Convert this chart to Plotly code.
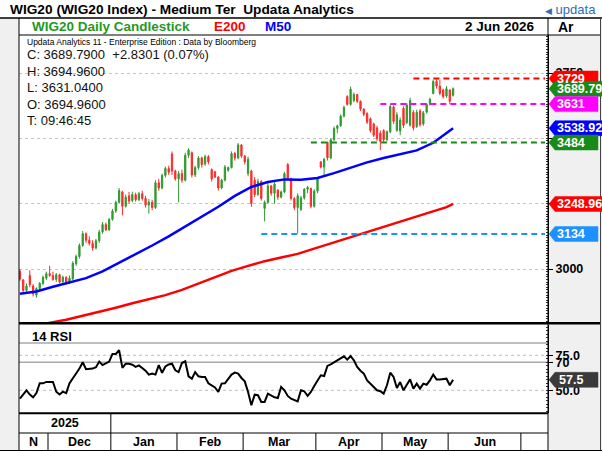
import plotly.graph_objects as go

# ---------------- data ----------------
days = list(range(132))

opens = [2992, 2958, 2918, 2975, 2935, 2900, 2925, 2945, 2965, 2982,
         2975, 2960, 2978, 2952, 2968, 2948, 2962, 3020, 3048, 3090,
         3135, 3110, 3098, 3080, 3108, 3142, 3170, 3150, 3190, 3222,
         3255, 3295, 3240, 3280, 3262, 3285, 3265, 3288, 3270, 3245,
         3255, 3235, 3330, 3310, 3358, 3385, 3440, 3375, 3345, 3365,
         3340, 3435, 3445, 3360, 3388, 3425, 3402, 3430, 3380, 3372,
         3352, 3310, 3340, 3378, 3388, 3442, 3425, 3475, 3432, 3365,
         3375, 3340, 3285, 3335, 3232, 3255, 3318, 3290, 3302, 3275,
         3295, 3400, 3345, 3270, 3235, 3228, 3272, 3305, 3308, 3240,
         3298, 3410, 3390, 3485, 3425, 3495, 3538, 3548, 3585, 3660,
         3630, 3645, 3668, 3642, 3612, 3595, 3575, 3555, 3540, 3520,
         3530, 3495, 3525, 3620, 3530, 3528, 3615, 3560, 3550, 3600,
         3545, 3605, 3555, 3600, 3630, 3672, 3718, 3700, 3685, 3662,
         3685, 3665]
highs = [2998, 2962, 2945, 2995, 2942, 2930, 2950, 2975, 2990, 3012,
         2990, 2985, 2982, 2975, 2972, 2975, 3030, 3055, 3098, 3145,
         3140, 3125, 3110, 3115, 3150, 3180, 3178, 3195, 3230, 3262,
         3310, 3300, 3285, 3295, 3296, 3292, 3295, 3300, 3280, 3268,
         3265, 3340, 3345, 3365, 3392, 3395, 3450, 3380, 3375, 3380,
         3445, 3462, 3450, 3395, 3432, 3430, 3438, 3436, 3385, 3375,
         3355, 3345, 3398, 3392, 3450, 3448, 3482, 3478, 3436, 3430,
         3380, 3352, 3345, 3340, 3262, 3330, 3322, 3335, 3305, 3300,
         3372, 3405, 3350, 3275, 3290, 3280, 3310, 3318, 3312, 3305,
         3352, 3412, 3425, 3487, 3500, 3545, 3552, 3592, 3625, 3665,
         3698, 3675, 3670, 3645, 3615, 3600, 3580, 3560, 3548, 3530,
         3535, 3530, 3630, 3625, 3600, 3580, 3622, 3635, 3655, 3608,
         3610, 3612, 3605, 3635, 3655, 3725, 3725, 3724, 3690, 3700,
         3688, 3694.96]
lows = [2955, 2910, 2905, 2930, 2895, 2890, 2918, 2938, 2958, 2970,
        2955, 2950, 2945, 2945, 2940, 2942, 2958, 3012, 3040, 3085,
        3100, 3090, 3070, 3075, 3100, 3135, 3145, 3145, 3185, 3215,
        3250, 3205, 3235, 3250, 3255, 3258, 3260, 3262, 3235, 3212,
        3225, 3230, 3300, 3305, 3350, 3360, 3360, 3338, 3255, 3330,
        3335, 3425, 3350, 3352, 3380, 3388, 3395, 3400, 3335, 3348,
        3300, 3305, 3335, 3372, 3385, 3415, 3420, 3425, 3400, 3355,
        3238, 3275, 3280, 3262, 3182, 3250, 3280, 3250, 3265, 3270,
        3290, 3340, 3262, 3225, 3136, 3222, 3265, 3290, 3232, 3235,
        3290, 3385, 3353, 3415, 3420, 3490, 3520, 3545, 3580, 3625,
        3625, 3638, 3635, 3605, 3585, 3555, 3522, 3505, 3490, 3455,
        3485, 3488, 3520, 3555, 3525, 3512, 3540, 3555, 3545, 3530,
        3540, 3545, 3548, 3595, 3625, 3668, 3690, 3665, 3652, 3655,
        3631.04, 3660]
closes = [2962, 2918, 2935, 2940, 2905, 2925, 2945, 2968, 2982, 2975,
          2960, 2978, 2950, 2968, 2948, 2965, 3022, 3048, 3090, 3135,
          3110, 3098, 3080, 3108, 3142, 3170, 3150, 3190, 3222, 3255,
          3300, 3240, 3275, 3260, 3285, 3265, 3288, 3270, 3245, 3255,
          3235, 3330, 3310, 3358, 3385, 3370, 3375, 3345, 3365, 3340,
          3435, 3455, 3360, 3388, 3425, 3400, 3430, 3410, 3345, 3352,
          3310, 3340, 3390, 3388, 3442, 3425, 3475, 3432, 3410, 3420,
          3250, 3285, 3335, 3270, 3255, 3318, 3290, 3325, 3275, 3295,
          3365, 3345, 3270, 3235, 3280, 3272, 3305, 3312, 3240, 3298,
          3345, 3390, 3420, 3425, 3495, 3538, 3548, 3585, 3618, 3630,
          3688, 3668, 3642, 3612, 3592, 3562, 3530, 3512, 3498, 3488,
          3495, 3525, 3622, 3565, 3590, 3570, 3550, 3628, 3645, 3540,
          3600, 3552, 3598, 3630, 3650, 3718, 3700, 3672, 3660, 3690,
          3642, 3689.79]

rsi = [44, 47, 50, 47, 45, 48, 55, 55, 56, 56,
       56, 49, 47, 49, 48, 55, 59, 62, 65.5, 70,
       65, 65, 65.5, 66.5, 70.5, 68, 69, 70.5, 76, 76,
       78.6, 66, 69, 69, 68.3, 66.7, 67.8, 66, 64, 61.2,
       61.9, 61.2, 68, 62.5, 67, 68.5, 69, 64.3, 63, 69.5,
       70.7, 60, 58.3, 63, 60, 59.5, 59.5, 55, 53.6, 52,
       48.8, 54.8, 55, 57.9, 61.2, 62.6, 61.9, 58.8, 56.4, 48.8,
       39.3, 46.9, 46.5, 41.7, 41.7, 47.6, 46.4, 45, 44.5, 52.4,
       50, 46, 44, 42.8, 42.1, 50, 49.3, 46, 48.8, 53,
       57.1, 60.7, 60.2, 67.4, 68.5, 69.8, 71.4, 73, 74.3, 71.9,
       74.5, 71.4, 66.7, 64, 61.9, 57.1, 54.5, 52.4, 50, 49.3,
       47.6, 53.6, 62.6, 59.5, 51.7, 55.9, 50, 54, 57.8, 51.2,
       54.8, 51.2, 54.8, 54, 57.1, 61.2, 57.8, 57.8, 58, 58.3,
       53.6, 57.5]

m50_days = [0, 5, 10, 15, 20, 25, 30, 35, 40, 45, 50, 55, 60, 65, 70, 75,
            80, 85, 90, 95, 100, 105, 110, 115, 120, 125, 131]
m50_vals = [2905, 2914, 2932, 2948, 2965, 2991, 3023, 3057, 3090, 3125, 3163,
            3199, 3238, 3280, 3314, 3333, 3343, 3342, 3348, 3367, 3389, 3408,
            3425, 3440, 3454, 3483, 3538.92]

e200_days = [4, 9, 14, 19, 24, 29, 34, 39, 44, 49, 54, 59, 64, 69, 74, 79,
             84, 89, 94, 99, 104, 109, 114, 119, 124, 129, 131]
e200_vals = [2782, 2793, 2806, 2821, 2836, 2852, 2869, 2885, 2900, 2920, 2944,
             2968, 2993, 3012, 3030, 3044, 3058, 3078, 3098, 3118, 3136, 3156,
             3177, 3198, 3216, 3237, 3248.96]

level_vals = [3729, 3631, 3484, 3134]
level_from = [119, 109, 88, 73]

tag_vals = [3729, 3689.79, 3631, 3538.92, 3484, 3248.96, 3134]
tag_text = ["3729", "3689.79", "3631", "3538.92", "3484", "3248.96", "3134"]
rsi_last = 57.5

price_ticks = [3000, 3250, 3500, 3750]
rsi_ticks = [50, 70, 75]
rsi_tick_text = ["50.0", "70", "75.0"]
rsi_dotted = [75, 50]
rsi_solid = [70]

month_labels = ["N", "Dec", "Jan", "Feb", "Mar", "Apr", "May", "Jun"]
month_starts = [0, 9, 28, 48, 68, 90, 110, 130, 152]
year_label = "2025"
year_end = 28

title_text = "WIG20 (WIG20 Index) - Medium Ter\u00a0 Updata Analytics"
ohlc_lines = ["C: 3689.7900\u00a0\u00a0+2.8301 (0.07%)", "H: 3694.9600",
              "L: 3631.0400", "O: 3694.9600", "T: 09:46:45"]

# ---------------- styles ----------------
W, H = 602, 451
def X(px):
    return px / W
def Y(py):
    return 1 - py / H

FONT = "Liberation Sans, Arial, sans-serif"
GREEN = "#2f9a2f"
RED = "#ff2a2a"
TAG_GREEN = "#178a17"
level_colors = ["#ff0000", "#ff00ff", "#1a8a1a", "#1e90ff"]
tag_colors = ["#ff0000", TAG_GREEN, "#ff00ff", "#0000ff", TAG_GREEN, "#ff0000", "#1e90ff"]

XMIN, XMAX = -0.27, 159.7
L_PX, R_PX = 19, 548
PRICE_TOP, PRICE_BOT = 35, 322
RSI_TOP, RSI_BOT = 324.7, 412.7
PX_PER_PT = (PRICE_BOT - PRICE_TOP) / (3895.5 - 2797.2)
PX_PER_RSI = 1.4

fig = go.Figure()

fig.add_trace(go.Candlestick(
    x=days, open=opens, high=highs, low=lows, close=closes,
    increasing=dict(line=dict(color=GREEN, width=1), fillcolor=GREEN),
    decreasing=dict(line=dict(color=RED, width=1), fillcolor=RED),
    whiskerwidth=0, showlegend=False, xaxis="x", yaxis="y", hoverinfo="skip"))

fig.add_trace(go.Scatter(x=e200_days, y=e200_vals, mode="lines",
                         line=dict(color="#ff0000", width=2.5),
                         showlegend=False, xaxis="x", yaxis="y", hoverinfo="skip"))
fig.add_trace(go.Scatter(x=m50_days, y=m50_vals, mode="lines",
                         line=dict(color="#0000ff", width=2.5),
                         showlegend=False, xaxis="x", yaxis="y", hoverinfo="skip"))

fig.add_trace(go.Scatter(x=days, y=rsi, mode="lines",
                         line=dict(color="black", width=2),
                         showlegend=False, xaxis="x2", yaxis="y2", hoverinfo="skip"))

shapes = []
annotations = []

def pline(x0, y0, x1, y1, color="black", width=1, layer="above"):
    shapes.append(dict(type="line", xref="paper", yref="paper",
                       x0=X(x0), y0=Y(y0), x1=X(x1), y1=Y(y1),
                       line=dict(color=color, width=width), layer=layer))

def prect(x0, y0, x1, y1, fill):
    shapes.append(dict(type="rect", xref="paper", yref="paper",
                       x0=X(x0), y0=Y(y0), x1=X(x1), y1=Y(y1),
                       fillcolor=fill, line=dict(width=0), layer="below"))

# white cells
prect(0, 0, W, 18, "white")
prect(L_PX, 18, 600, PRICE_TOP, "white")
prect(L_PX, RSI_BOT, R_PX, H, "white")

# level lines
for v, s, c in zip(level_vals, level_from, level_colors):
    shapes.append(dict(type="line", xref="x", yref="y", x0=s, x1=XMAX - 0.9,
                       y0=v, y1=v, line=dict(color=c, width=2, dash="6px,4px"),
                       layer="above"))

# RSI reference lines
for v in rsi_dotted:
    shapes.append(dict(type="line", xref="x2 domain", yref="y2", x0=0, x1=1,
                       y0=v, y1=v, line=dict(color="#bdbdbd", width=1, dash="dot"),
                       layer="below"))
for v in rsi_solid:
    shapes.append(dict(type="line", xref="x2 domain", yref="y2", x0=0, x1=1,
                       y0=v, y1=v, line=dict(color="#a8a8a8", width=1.5),
                       layer="below"))
pline(L_PX, 343, R_PX, 343, "#a8a8a8", 1.5)

# frame lines
pline(0, 18, W, 18, "black", 1.5)
pline(L_PX, 18, L_PX, H, "black", 1)
pline(R_PX, 18, R_PX, H, "black", 1)
pline(600.5, 18, 600.5, H, "#444", 1)
pline(L_PX, PRICE_TOP, 600, PRICE_TOP, "black", 1)
pline(L_PX, 323.3, 600, 323.3, "black", 2.5)
pline(L_PX, 413.2, R_PX, 413.2, "black", 2)
pline(L_PX, 433, R_PX, 433, "black", 1)
pline(0, 450.5, W, 450.5, "black", 1)

# month separators and labels
for s in month_starts[1:]:
    shapes.append(dict(type="line", xref="x", yref="paper", x0=s - 0.5, x1=s - 0.5,
                       y0=Y(433), y1=Y(H), line=dict(color="black", width=1),
                       layer="above"))
shapes.append(dict(type="line", xref="x", yref="paper", x0=year_end - 0.5,
                   x1=year_end - 0.5, y0=Y(413), y1=Y(433),
                   line=dict(color="black", width=1), layer="above"))
for i, lab in enumerate(month_labels):
    a = max(month_starts[i] - 0.5, XMIN)
    b = month_starts[i + 1] - 0.5
    annotations.append(dict(x=(a + b) / 2, y=Y(442), xref="x", yref="paper",
                            text=lab, showarrow=False, xanchor="center", yanchor="middle",
                            font=dict(family=FONT, size=12.5, color="black", weight="bold")))
annotations.append(dict(x=(XMIN + year_end - 0.5) / 2, y=Y(423), xref="x", yref="paper",
                        text=year_label, showarrow=False, xanchor="center", yanchor="middle",
                        font=dict(family=FONT, size=12.5, color="black", weight="bold")))

# price tags
half_p = 7.5 / PX_PER_PT
for v, t, c in zip(tag_vals, tag_text, tag_colors):
    right = 598 if len(t) <= 5 else 603
    path = (f"M {X(549)},{v} L {X(555)},{v + half_p} L {X(right)},{v + half_p} "
            f"L {X(right)},{v - half_p} L {X(555)},{v - half_p} Z")
    shapes.append(dict(type="path", xref="paper", yref="y", path=path,
                       fillcolor=c, line=dict(color=c, width=0.5), layer="above"))
    annotations.append(dict(x=X(555), y=v, xref="paper", yref="y", text=t,
                            showarrow=False, xanchor="left", yanchor="middle",
                            font=dict(family=FONT, size=12.5, color="white", weight="bold")))

half_r = 7.5 / PX_PER_RSI
path = (f"M {X(549)},{rsi_last} L {X(555)},{rsi_last + half_r} L {X(598)},{rsi_last + half_r} "
        f"L {X(598)},{rsi_last - half_r} L {X(555)},{rsi_last - half_r} Z")
shapes.append(dict(type="path", xref="paper", yref="y2", path=path,
                   fillcolor="#3a3a3a", line=dict(color="#3a3a3a", width=0.5), layer="above"))
annotations.append(dict(x=X(557), y=rsi_last, xref="paper", yref="y2", text=f"{rsi_last}",
                        showarrow=False, xanchor="left", yanchor="middle",
                        font=dict(family=FONT, size=12.5, color="white", weight="bold")))

# texts
def ptext(px, py, text, size, color="black", weight="normal", anchor="left"):
    annotations.append(dict(x=X(px), y=Y(py), xref="paper", yref="paper", text=text,
                            showarrow=False, xanchor=anchor, yanchor="middle",
                            font=dict(family=FONT, size=size, color=color, weight=weight)))

ptext(8, 9.5, title_text, 13.7, "black", "bold")
ptext(598, 9.5, '<span style="font-size:9px">◀</span> updata', 13, "#2d6db5", "normal", "right")
ptext(30, 27, "WIG20 Daily Candlestick", 13.5, "#1f9a1f", "bold")
ptext(212, 27, "E200", 13.5, "#ff0000", "bold")
ptext(263, 27, "M50", 13.5, "#0000ff", "bold")
ptext(537, 27, "2 Jun 2026", 13.5, "black", "bold", "right")
ptext(556, 27, "Ar", 14, "black", "bold")
ptext(25, 41.5, "Updata Analytics 11 - Enterprise Edition : Data by Bloomberg", 8.5, "black")
for k, line in enumerate(ohlc_lines):
    ptext(25, 54.5 + k * 16.6, line, 13, "#111")
ptext(30, 336, "14 RSI", 13, "black", "bold")

axis_font = dict(family=FONT, size=12.5, color="black", weight="bold")

fig.update_layout(
    width=W, height=H, autosize=False,
    margin=dict(l=0, r=0, t=0, b=0),
    paper_bgcolor="#f0f0f0", plot_bgcolor="white",
    showlegend=False,
    xaxis=dict(domain=[X(L_PX), X(R_PX)], range=[XMIN, XMAX], anchor="y",
               showticklabels=False, showgrid=False, zeroline=False, ticks="",
               rangeslider=dict(visible=False), fixedrange=True),
    xaxis2=dict(domain=[X(L_PX), X(R_PX)], range=[XMIN, XMAX], anchor="y2",
                showticklabels=False, showgrid=False, zeroline=False, ticks="",
                fixedrange=True),
    yaxis=dict(domain=[Y(PRICE_BOT), Y(PRICE_TOP)], range=[2797.2, 3895.5], anchor="x",
               side="right", tickvals=price_ticks, ticks="outside", ticklen=4,
               tickcolor="black", showline=True, linecolor="black", linewidth=1,
               showgrid=True, gridcolor="#c4c4c4", griddash="dot", gridwidth=1,
               zeroline=False, tickfont=axis_font,
               minor=dict(dtick=10, ticks="inside", ticklen=2, tickcolor="#333",
                          showgrid=False)),
    yaxis2=dict(domain=[Y(RSI_BOT), Y(RSI_TOP)], range=[34, 96.86], anchor="x2",
                side="right", tickvals=rsi_ticks, ticktext=rsi_tick_text,
                ticks="outside", ticklen=4, tickcolor="black", showline=True,
                linecolor="black", linewidth=1, showgrid=False, zeroline=False,
                tickfont=axis_font,
                minor=dict(dtick=2.5, ticks="inside", ticklen=2, tickcolor="#333",
                           showgrid=False)),
    boxgap=0.45,
    shapes=shapes,
    annotations=annotations,
)

fig.write_html("out.html")
